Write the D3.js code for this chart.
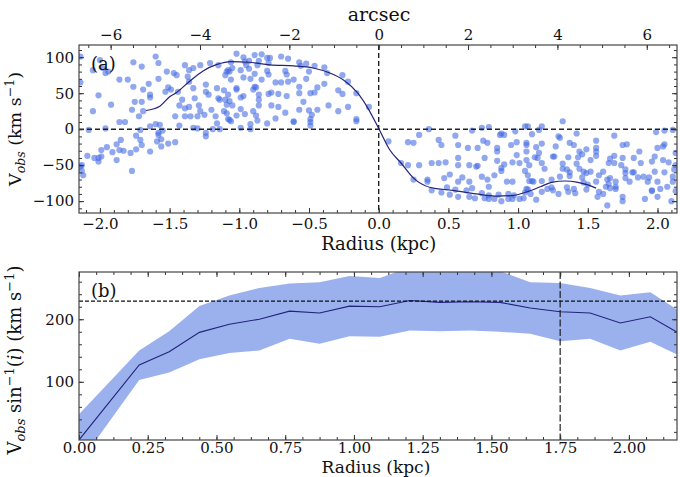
<!DOCTYPE html>
<html>
<head>
<meta charset="utf-8">
<script src="https://cdn.jsdelivr.net/npm/d3@7"></script>
<style>
  body { margin: 0; background: #fff; }
  text { font-family: "DejaVu Serif", serif; fill: #111; }
</style>
</head>
<body>
<script>
// ---- data ----
// panel (a): observed velocities along the slit, [radius kpc, V km/s]
var obsPoints = [
  [-2.14,101],[-2.14,65],[-2.00,96],[-1.98,85],[-2.05,82],[-1.96,78],[-1.94,80],[-2.01,47],[-1.92,34],[-2.05,25],
  [-2.08,-1],[-1.96,1],[-1.86,69],[-1.80,69],[-1.86,10],[-1.82,10],[-1.76,93],[-1.70,87],[-1.60,101],[-1.58,92],
  [-1.52,80],[-1.47,78],[-1.45,75],[-1.39,89],[-1.36,82],[-1.33,85],[-1.28,89],[-1.21,92],[-1.15,89],[-1.58,70],
  [-1.65,63],[-1.76,59],[-1.69,55],[-1.64,48],[-1.64,44],[-1.75,38],[-1.70,38],[-1.77,27],[-1.72,18],[-1.69,25],
  [-1.64,4],[-1.60,7],[-1.57,6],[-1.51,58],[-1.49,55],[-1.53,52],[-1.44,52],[-1.41,41],[-1.43,33],[-1.46,18],
  [-1.43,5],[-1.39,18],[-1.37,73],[-1.36,66],[-1.33,57],[-1.32,43],[-1.36,31],[-1.39,29],[-1.35,18],[-1.33,2],
  [-1.29,33],[-1.28,25],[-1.30,18],[-1.25,20],[-1.24,62],[-1.24,52],[-1.22,48],[-1.20,27],[-1.17,18],[-1.16,8],
  [-1.15,43],[-1.14,41],[-1.09,34],[-1.11,25],[-1.08,14],[-1.30,1],[-1.19,0],[-1.24,-5],[-1.24,-10],[-1.14,0],
  [-1.09,80],[-1.10,75],[-1.08,82],[-1.16,57],[-1.11,54],[-1.08,48],[-1.10,41],[-1.09,22],
  [-1.71,-1],[-1.74,-9],[-1.71,-15],[-1.70,-22],[-1.64,-31],[-1.74,-28],[-1.78,-33],[-1.77,-58],[-1.88,-43],[-1.91,-32],
  [-1.85,-15],[-1.88,-21],[-1.86,-29],[-1.83,-30],[-1.95,-25],[-1.99,-29],[-1.99,-38],[-2.01,-40],[-2.04,-40],[-2.01,-45],
  [-2.09,-37],[-2.13,-50],[-2.14,-52],[-2.13,-58],[-2.12,-64],[-1.59,-17],[-1.56,-14],[-1.56,-24],[-1.51,-20],[-1.46,-18],
  [-1.58,-5],[-1.58,-8],[-1.55,-2],
  [-1.02,105],[-0.89,103],[-0.84,104],[-0.97,100],[-0.70,101],[-0.65,98],[-0.86,95],[-0.80,99],[-0.78,99],[-0.79,92],
  [-0.96,94],[-0.93,95],[-0.95,89],[-0.87,89],[-1.06,93],[-1.07,80],[-1.05,85],[-0.99,82],[-0.93,84],[-0.89,77],
  [-0.80,81],[-0.79,76],[-0.67,81],[-0.66,76],[-0.57,93],[-0.52,91],[-0.46,88],[-0.56,88],[-0.39,86],[-0.50,80],
  [-0.37,78],[-0.26,75],[-0.22,66],[-0.97,72],[-0.92,70],[-0.84,69],[-1.06,69],[-0.74,65],[-0.70,65],[-0.65,66],
  [-0.61,69],[-0.52,70],[-0.39,63],[-0.57,59],[-0.44,58],[-1.02,57],[-1.02,55],[-0.89,59],[-0.88,58],[-0.86,48],
  [-0.90,55],[-0.77,51],[-0.79,49],[-0.72,49],[-0.66,46],[-0.57,50],[-0.49,50],[-0.46,51],[-0.29,54],[-0.26,49],
  [-0.16,50],[-0.99,44],[-0.97,46],[-1.07,39],[-1.05,33],[-0.86,41],[-0.86,33],[-0.77,33],[-0.72,31],[-0.54,38],
  [-0.57,27],[-0.36,33],[-0.22,31],[-0.07,31],[-0.99,28],[-0.96,21],[-0.90,25],[-0.88,19],[-1.02,19],[-0.67,23],
  [-0.50,26],[-0.48,20],[-0.44,27],[-0.29,25],[-0.74,15],[-0.87,12],[-1.06,11],[-1.07,13],[-0.92,7],[-0.80,8],
  [-0.61,10],[-0.61,11],[-0.49,14],[-0.49,10],[-0.49,5],[-0.16,14],[-0.16,11],[-0.99,2],[-0.92,0],
  [0.07,-17],[0.21,-18],[0.25,-19],[0.29,-8],[0.36,0],[0.43,-15],[0.45,-22],[0.55,-9],[0.57,-22],[0.67,-2],
  [0.71,-26],[0.64,-26],[0.74,2],[0.79,3],[0.75,-16],[0.78,-19],[0.87,-8],[0.88,-6],[0.90,-8],[0.85,-26],
  [0.85,-31],[0.98,-3],[1.05,4],[0.99,-18],[0.95,-22],[1.06,-19],[0.99,-36],[1.06,-31],
  [0.16,-47],[0.21,-50],[0.29,-50],[0.38,-47],[0.43,-47],[0.48,-46],[0.57,-40],[0.57,-50],[0.65,-50],[0.70,-52],
  [0.71,-51],[0.76,-40],[0.85,-44],[0.90,-49],[0.88,-54],[0.88,-58],[0.96,-46],[1.01,-47],[1.05,-58],
  [0.25,-70],[0.35,-70],[0.35,-73],[0.51,-63],[0.47,-68],[0.57,-73],[0.60,-67],[0.65,-73],[0.74,-66],[0.78,-70],
  [0.83,-64],[0.92,-73],[0.96,-73],[1.08,-72],
  [0.38,-85],[0.45,-88],[0.49,-81],[0.51,-91],[0.55,-84],[0.57,-94],[0.63,-85],[0.65,-94],[0.67,-82],[0.69,-96],
  [0.74,-89],[0.76,-96],[0.79,-80],[0.79,-92],[0.79,-97],[0.83,-97],[0.86,-91],[0.88,-100],[0.93,-90],[0.93,-97],
  [0.96,-97],[0.97,-92],[1.01,-97],[1.04,-96],[1.05,-88],[1.06,-83],
  [1.07,4],[1.10,-7],[1.15,-1],[1.17,4],[1.32,11],[1.42,-6],[1.56,-16],[1.69,-9],[1.99,-4],[2.05,-2],
  [2.11,-1],[1.29,-10],[1.30,-12],[1.06,-22],[1.13,-25],[1.17,-20],[1.27,-24],[1.37,-19],[1.40,-22],[1.44,-31],
  [1.49,-28],[1.56,-26],[1.56,-31],[1.56,-37],[1.75,-22],[1.78,-21],[1.87,-31],[2.00,-26],[2.05,-21],[2.13,-33],
  [1.15,-33],[1.12,-39],[1.14,-40],[1.17,-47],[1.25,-38],[1.26,-38],[1.36,-39],[1.43,-39],[1.46,-35],[1.52,-43],
  [1.66,-41],[1.69,-37],[1.75,-40],[1.83,-40],[1.88,-47],[1.96,-45],[1.98,-38],[2.04,-43],[2.08,-46],[2.04,-24],
  [1.06,-43],[1.08,-50],[1.19,-55],[1.32,-48],[1.32,-55],[1.42,-48],[1.35,-56],[1.37,-60],[1.44,-55],[1.47,-59],
  [1.49,-61],[1.52,-59],[1.61,-59],[1.58,-64],[1.65,-47],[1.69,-47],[1.74,-50],[1.77,-56],[1.77,-61],[1.82,-60],
  [1.83,-60],[1.86,-67],[1.90,-66],[1.94,-67],[1.98,-59],[2.05,-60],[2.12,-56],[2.11,-66],[1.07,-64],[1.10,-72],
  [1.11,-73],[1.17,-72],[1.24,-70],[1.30,-66],[1.37,-65],[1.46,-67],[1.47,-74],[1.50,-77],[1.56,-73],[1.64,-70],
  [1.66,-68],[1.65,-76],[1.70,-73],[1.63,-80],[1.70,-83],[1.66,-82],[1.77,-68],[1.80,-73],[1.93,-73],[1.96,-85],
  [2.00,-73],[2.02,-83],[2.07,-80],[2.11,-73],[2.13,-86],[1.07,-84],[1.09,-90],[1.17,-87],[1.21,-83],[1.24,-81],
  [1.25,-85],[1.29,-90],[1.35,-81],[1.36,-87],[1.40,-83],[1.41,-89],[1.49,-84],[1.58,-87],[1.57,-94],[1.64,-106],
  [1.61,-90],[1.70,-80],[1.75,-94],[1.75,-100],[1.91,-97],[1.96,-86],[2.00,-94],[2.10,-100],[1.13,-98],[2.13,-50]
];

// panel (a): model curve
var curveR = [-1.67,-1.57,-1.50,-1.45,-1.36,-1.26,-1.16,-1.06,-0.93,-0.78,-0.61,-0.47,-0.35,-0.25,-0.15,-0.08,0,
              0.08,0.16,0.25,0.37,0.53,0.70,0.85,0.97,1.08,1.16,1.24,1.34,1.42,1.50,1.56];
var curveV = [26,32,45,51,66,81,90,94,93,89.5,88,85,78,68,50,30,1,
              -29,-47,-68,-81,-85,-90,-93,-92,-86,-80,-74,-72,-73.5,-77.5,-82];

// panel (b): rotation curve with its spread
var rcR    = [0, 0.219, 0.328, 0.438, 0.547, 0.656, 0.766, 0.875, 0.984, 1.094, 1.203, 1.313, 1.422, 1.531, 1.641, 1.75, 1.859, 1.969, 2.078, 2.188];
var rcV    = [7, 127, 148, 179, 192, 200, 213, 210, 221, 220, 230, 227, 228, 227, 218, 212, 210, 194, 204, 176];
var rcLow  = [-31, 103, 115, 136, 146, 150, 169, 161, 173, 172, 182, 181, 182, 180, 177, 165, 169, 150, 164, 141];
var rcHigh = [48, 150, 181, 221, 238, 250, 257, 259, 269, 266, 283, 284, 283, 277, 259, 258, 250, 238, 243, 212];

var vFlat = 229;      // horizontal dashed line in (b)
var rCut = 1.75;      // vertical dashed line in (b)
var arcsecPerKpc = 3.12;

var W = 680, H = 477;
var left = 79, right = 677;
var font = "DejaVu Serif";

var svg = d3.select("body").append("svg")
  .attr("width", W).attr("height", H);

// scales
var xA = d3.scaleLinear().domain([-2.15, 2.14]).range([left, right]);
var yA = d3.scaleLinear().domain([-116.5, 117]).range([213, 45]);
var xArc = d3.scaleLinear().domain([-2.15 * arcsecPerKpc, 2.14 * arcsecPerKpc]).range([left, right]);
var xB = d3.scaleLinear().domain([0, 2.175]).range([left, right]);
var yB = d3.scaleLinear().domain([7, 275.5]).range([440, 272]);

var defs = svg.append("defs");
defs.append("clipPath").attr("id", "clipA").append("rect")
  .attr("x", left).attr("y", 45).attr("width", right - left).attr("height", 168);
defs.append("clipPath").attr("id", "clipB").append("rect")
  .attr("x", left).attr("y", 272).attr("width", right - left).attr("height", 168);

// helper for inward ticks, major + minor
function addAxis(axisFn, scale, pos, major, minor, fmt, fontSize, pad) {
  var g = svg.append("g").attr("transform", pos);
  g.call(axisFn(scale).tickValues(minor).tickSize(-3).tickFormat(""));
  var gm = svg.append("g").attr("transform", pos);
  gm.call(axisFn(scale).tickValues(major).tickSize(-5).tickPadding(pad == null ? 5 : pad).tickFormat(fmt));
  [g, gm].forEach(function(s) {
    s.select(".domain").remove();
    s.selectAll("line").attr("stroke", "#333");
    s.selectAll("text").style("font-family", font).style("font-size", fontSize + "px").attr("fill", "#111");
  });
  return gm;
}

var f1 = d3.format(".1f"), f2 = d3.format(".2f"), f0 = d3.format("d");

// ---------- panel (a) ----------
var gA = svg.append("g").attr("clip-path", "url(#clipA)");

gA.selectAll("circle").data(obsPoints).enter().append("circle")
  .attr("cx", function(d) { return xA(d[0]); })
  .attr("cy", function(d) { return yA(d[1]); })
  .attr("r", 3.1)
  .attr("fill", "royalblue")
  .attr("fill-opacity", 0.58);

gA.append("line").attr("x1", left).attr("x2", right).attr("y1", yA(0)).attr("y2", yA(0))
  .attr("stroke", "#222").attr("stroke-width", 1.4).attr("stroke-dasharray", "5,3");
gA.append("line").attr("x1", xA(0)).attr("x2", xA(0)).attr("y1", 45).attr("y2", 213)
  .attr("stroke", "#222").attr("stroke-width", 1.4).attr("stroke-dasharray", "5,3");

var curveLine = d3.line()
  .x(function(d, i) { return xA(curveR[i]); })
  .y(function(d) { return yA(d); })
  .curve(d3.curveMonotoneX);
gA.append("path").datum(curveV).attr("d", curveLine)
  .attr("fill", "none").attr("stroke", "#23237a").attr("stroke-width", 1.2);

addAxis(d3.axisBottom, xA, "translate(0,213)", d3.range(-2, 2.01, 0.5), d3.range(-2.1, 2.11, 0.1), f1, 15);
addAxis(d3.axisLeft, yA, "translate(" + left + ",0)", [-100, -50, 0, 50, 100], d3.range(-110, 111, 10), f0, 15);
addAxis(d3.axisRight, yA, "translate(" + right + ",0)", [-100, -50, 0, 50, 100], d3.range(-110, 111, 10), "", 15);
addAxis(d3.axisTop, xArc, "translate(0,45)", [-6, -4, -2, 0, 2, 4, 6], d3.range(-6.5, 6.6, 0.5), f0, 15);

svg.append("rect").attr("x", left).attr("y", 45).attr("width", right - left).attr("height", 168)
  .attr("fill", "none").attr("stroke", "#444").attr("stroke-width", 1.2);

svg.append("text").attr("x", (left + right) / 2 + 1).attr("y", 21).attr("text-anchor", "middle")
  .style("font-size", "19px").text("arcsec");
svg.append("text").attr("x", 91).attr("y", 70).style("font-size", "18px").text("(a)");
svg.append("text").attr("x", xA(0)).attr("y", 250).attr("text-anchor", "middle")
  .style("font-size", "18px").text("Radius (kpc)");

var labA = svg.append("text").attr("transform", "translate(21,129) rotate(-90)")
  .attr("text-anchor", "middle").style("font-size", "17.5px");
labA.append("tspan").text("V");
labA.append("tspan").attr("dy", 4).style("font-size", "12.5px").style("font-style", "italic").text("obs");
labA.append("tspan").attr("dy", -4).text(" (km s");
labA.append("tspan").attr("dy", -7).style("font-size", "12.5px").text("\u22121");
labA.append("tspan").attr("dy", 7).text(")");

// ---------- panel (b) ----------
var gB = svg.append("g").attr("clip-path", "url(#clipB)");

var band = d3.area()
  .x(function(d, i) { return xB(rcR[i]); })
  .y0(function(d, i) { return yB(rcLow[i]); })
  .y1(function(d) { return yB(d); });
gB.append("path").datum(rcHigh).attr("d", band).attr("fill", "#9bb1ed");

var rcLine = d3.line()
  .x(function(d, i) { return xB(rcR[i]); })
  .y(function(d) { return yB(d); });
gB.append("path").datum(rcV).attr("d", rcLine)
  .attr("fill", "none").attr("stroke", "#23237a").attr("stroke-width", 1.1);

gB.append("line").attr("x1", left).attr("x2", right).attr("y1", yB(vFlat)).attr("y2", yB(vFlat))
  .attr("stroke", "#111").attr("stroke-width", 1.1).attr("stroke-dasharray", "4,2");
gB.append("line").attr("x1", xB(rCut)).attr("x2", xB(rCut)).attr("y1", 272).attr("y2", 440)
  .attr("stroke", "#111").attr("stroke-width", 1.1).attr("stroke-dasharray", "7,2.5");

addAxis(d3.axisBottom, xB, "translate(0,440)", d3.range(0, 2.01, 0.25), d3.range(0, 2.17, 0.0625), f2, 15, 2);
addAxis(d3.axisTop, xB, "translate(0,272)", d3.range(0, 2.01, 0.25), d3.range(0, 2.17, 0.0625), "", 15);
addAxis(d3.axisLeft, yB, "translate(" + left + ",0)", [100, 200], d3.range(20, 275, 20), f0, 15);
addAxis(d3.axisRight, yB, "translate(" + right + ",0)", [100, 200], d3.range(20, 275, 20), "", 15);

svg.append("rect").attr("x", left).attr("y", 272).attr("width", right - left).attr("height", 168)
  .attr("fill", "none").attr("stroke", "#444").attr("stroke-width", 1.2);

svg.append("text").attr("x", 91).attr("y", 297).style("font-size", "18px").text("(b)");
svg.append("text").attr("x", xB(1.08)).attr("y", 473).attr("text-anchor", "middle")
  .style("font-size", "17px").text("Radius (kpc)");

var labB = svg.append("text").attr("transform", "translate(21,360) rotate(-90)")
  .attr("text-anchor", "middle").style("font-size", "18px");
labB.append("tspan").text("V");
labB.append("tspan").attr("dy", 4).style("font-size", "13px").style("font-style", "italic").text("obs");
labB.append("tspan").attr("dy", -4).text(" sin");
labB.append("tspan").attr("dy", -7).style("font-size", "13px").text("\u22121");
labB.append("tspan").attr("dy", 7).text("(");
labB.append("tspan").style("font-style", "italic").text("i");
labB.append("tspan").text(") (km s");
labB.append("tspan").attr("dy", -7).style("font-size", "13px").text("\u22121");
labB.append("tspan").attr("dy", 7).text(")");
</script>
</body>
</html>
